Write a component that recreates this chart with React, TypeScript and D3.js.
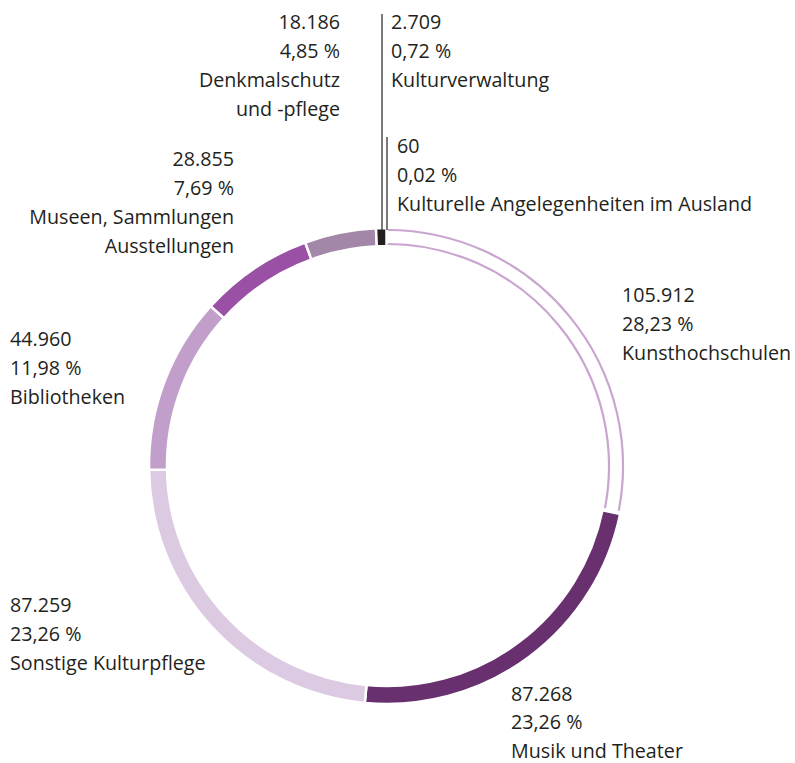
import React, { useEffect, useRef } from 'react';
import * as d3 from 'd3';

// Ausgaben nach Bereichen (in Tsd. Euro), Reihenfolge im Uhrzeigersinn ab 12 Uhr
const categories = [
  'Kunsthochschulen',
  'Musik und Theater',
  'Sonstige Kulturpflege',
  'Bibliotheken',
  'Museen, Sammlungen Ausstellungen',
  'Denkmalschutz und -pflege',
  'Kulturverwaltung',
  'Kulturelle Angelegenheiten im Ausland',
];
const values = [105912, 87268, 87259, 44960, 28855, 18186, 2709, 60];
const valueLabels = ['105.912', '87.268', '87.259', '44.960', '28.855', '18.186', '2.709', '60'];
const percentLabels = ['28,23 %', '23,26 %', '23,26 %', '11,98 %', '7,69 %', '4,85 %', '0,72 %', '0,02 %'];
const nameLines = [
  ['Kunsthochschulen'],
  ['Musik und Theater'],
  ['Sonstige Kulturpflege'],
  ['Bibliotheken'],
  ['Museen, Sammlungen', 'Ausstellungen'],
  ['Denkmalschutz', 'und -pflege'],
  ['Kulturverwaltung'],
  ['Kulturelle Angelegenheiten im Ausland'],
];
const colors = ['none', '#68306f', '#dccae2', '#c29fca', '#9a50a5', '#a387a8', '#231f20', '#231f20'];

const App = () => {
  const svgRef = useRef(null);

  useEffect(() => {
    const width = 795;
    const height = 763;
    const cx = 387;
    const cy = 466;
    const outerR = 238;
    const innerR = 220;
    const lineH = 29;

    const svg = d3.select(svgRef.current)
      .attr('width', width)
      .attr('height', height);
    svg.selectAll('*').remove();

    const pie = d3.pie().value(d => d).sort(null);
    const arcs = pie(values);

    const g = svg.append('g').attr('transform', `translate(${cx},${cy})`);

    const arc = d3.arc().innerRadius(innerR).outerRadius(outerR);

    // gefüllte Segmente
    g.selectAll('path.seg')
      .data(arcs.filter((d, i) => i > 0))
      .enter()
      .append('path')
      .attr('class', 'seg')
      .attr('d', arc)
      .attr('fill', (d, i) => colors[i + 1])
      .attr('stroke', '#fff')
      .attr('stroke-width', 2.5);

    // Kunsthochschulen nur als Kontur (zwei Bögen)
    const k = arcs[0];
    const pad = 0.012;
    [outerR - 2, innerR + 2].forEach(r => {
      const line = d3.arc().innerRadius(r).outerRadius(r)
        .startAngle(k.startAngle + pad * 0.3)
        .endAngle(k.endAngle - pad);
      g.append('path')
        .attr('d', line())
        .attr('fill', 'none')
        .attr('stroke', '#c9a5cf')
        .attr('stroke-width', 2.2);
    });

    // Hinweislinien für kleine Segmente
    svg.append('line')
      .attr('x1', 382).attr('x2', 382)
      .attr('y1', 14).attr('y2', cy - outerR + 2)
      .attr('stroke', '#231f20').attr('stroke-width', 1.2);
    svg.append('line')
      .attr('x1', 387).attr('x2', 387)
      .attr('y1', 137).attr('y2', cy - outerR + 2)
      .attr('stroke', '#231f20').attr('stroke-width', 1.2);

    // Beschriftungen
    const labelPos = [
      { x: 622, y: 295, anchor: 'start' },
      { x: 511, y: 694, anchor: 'start' },
      { x: 10, y: 605, anchor: 'start' },
      { x: 10, y: 339, anchor: 'start' },
      { x: 234, y: 159, anchor: 'end' },
      { x: 340, y: 22, anchor: 'end' },
      { x: 391, y: 22, anchor: 'start' },
      { x: 397, y: 146, anchor: 'start' },
    ];

    categories.forEach((c, i) => {
      const lines = [valueLabels[i], percentLabels[i], ...nameLines[i]];
      const t = svg.append('text')
        .attr('text-anchor', labelPos[i].anchor)
        .attr('font-family', '"Open Sans", sans-serif')
        .attr('font-size', 19.7)
        .attr('fill', '#231f20');
      lines.forEach((l, j) => {
        t.append('tspan')
          .attr('x', labelPos[i].x)
          .attr('y', labelPos[i].y + j * (i === 1 ? 28.6 : lineH))
          .attr('dy', '0.33em')
          .text(l);
      });
    });
  }, []);

  return <svg ref={svgRef} style={{ position: 'absolute', left: 0, top: 0 }}></svg>;
};

export default App;
